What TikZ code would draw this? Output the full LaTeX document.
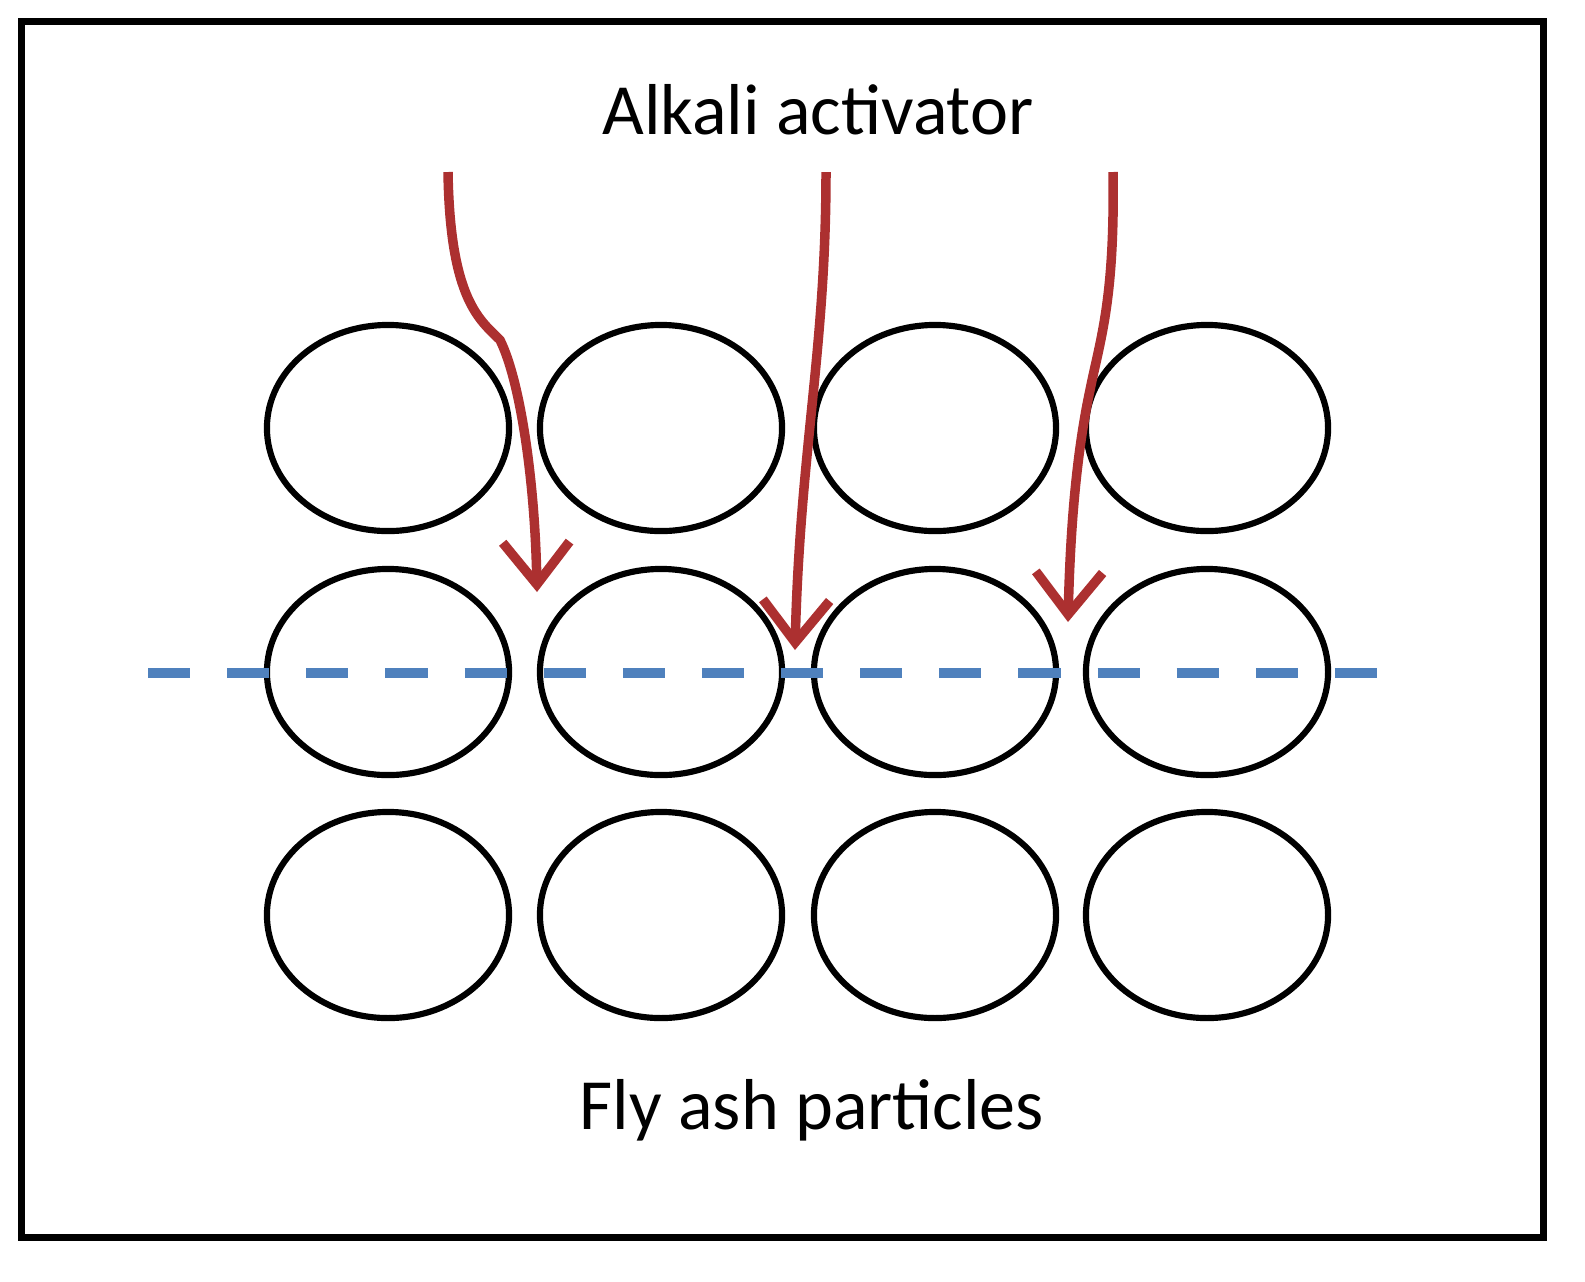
\documentclass[tikz,border=0pt]{standalone}
\usepackage{fontspec}
\setmainfont{Carlito}
\usetikzlibrary{shapes.geometric,arrows.meta}
\definecolor{ared}{RGB}{172,48,48}
\definecolor{ablue}{RGB}{79,129,189}
\begin{document}
\begin{tikzpicture}[x=0.01cm,y=-0.01cm,
  part/.style={draw,ellipse,line width=1.75pt,minimum width=2.42cm,minimum height=2.06cm,inner sep=0pt},
  flow/.style={draw=ared,line width=2.7pt,-{Straight Barb[length=12pt,width=19pt,line width=2.7pt]}},
  lbl/.style={font=\fontsize{20.5}{24}\selectfont}]
\useasboundingbox (0,0) rectangle (1585,1281);
\node[draw,line width=2pt,minimum width=15.21cm,minimum height=12.15cm,inner sep=0pt] (frame) at (782.5,629.5) {};
\foreach \c/\x in {1/388,2/661,3/935,4/1207}{
  \foreach \r/\y in {1/428,2/672,3/915}{
    \node[part] (p\r\c) at (\x,\y) {};
  }}
\node[lbl] (top) at (818,110) {Alkali activator};
\node[lbl] (bot) at (812,1110) {Fly ash particles};
\coordinate (d1) at (148,673);
\coordinate (d2) at (1383,673);
\draw[ablue,line width=2.6pt,dash pattern=on 12pt off 10.5pt] (d1) -- (d2);
\coordinate (a1s) at (448,172); \coordinate (a1e) at (537,592);
\coordinate (a2s) at (826,172); \coordinate (a2e) at (795,650);
\coordinate (a3s) at (1113,172); \coordinate (a3e) at (1068,622);
\draw[flow] (a1s) .. controls (450,300) and (480,320) .. (500,340) .. controls (520,380) and (535,480) .. (a1e);
\draw[flow] (a2s) .. controls (826,350) and (800,450) .. (a2e);
\draw[flow] (a3s) .. controls (1115,300) and (1100,340) .. (1090,390) .. controls (1075,460) and (1070,540) .. (a3e);
\end{tikzpicture}
\end{document}
